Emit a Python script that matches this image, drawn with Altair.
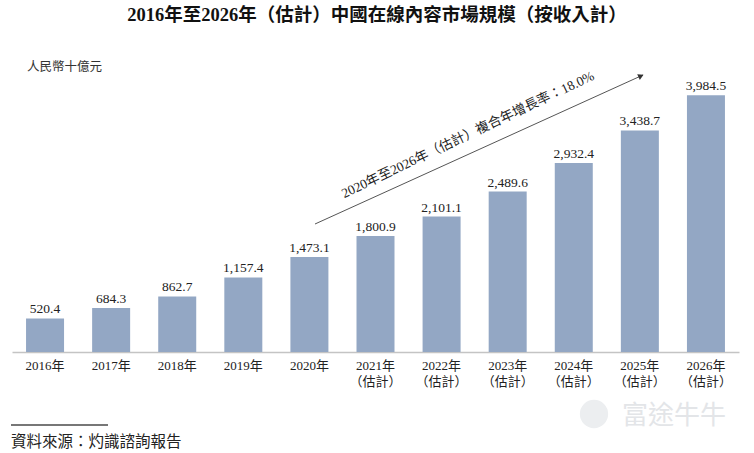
import altair as alt
import pandas as pd

years = ["2016", "2017", "2018", "2019", "2020", "2021", "2022", "2023", "2024", "2025", "2026"]
values = [520.4, 684.3, 862.7, 1157.4, 1473.1, 1800.9, 2101.1, 2489.6, 2932.4, 3438.7, 3984.5]
estimated = [False, False, False, False, False, True, True, True, True, True, True]
value_labels = ["520.4", "684.3", "862.7", "1,157.4", "1,473.1", "1,800.9", "2,101.1",
                "2,489.6", "2,932.4", "3,438.7", "3,984.5"]

title_text = "2016年至2026年（估計）中國在線內容市場規模（按收入計）"
unit_text = "人民幣十億元"
cagr_text = "2020年至2026年（估計）複合年增長率：18.0%"
source_text = "資料來源：灼識諮詢報告"
watermark_text = "富途牛牛"

labels = [y + "年" + ("\n（估計）" if e else "") for y, e in zip(years, estimated)]
df = pd.DataFrame({"label": labels, "value": values, "vlabel": value_labels})

SERIF = "Liberation Serif, 'Noto Sans CJK TC', sans-serif"
CJK = "'Noto Sans CJK TC', 'Liberation Serif', sans-serif"
BAR = "#93a7c4"
TXT = "#222222"

x_enc = alt.X("label:N", sort=None,
              scale=alt.Scale(paddingInner=0.425, paddingOuter=0.2125),
              axis=alt.Axis(title=None, labelAngle=0, ticks=False, domainColor="#c4c4c4",
                            domainWidth=1.5, labelPadding=7, labelFontSize=13,
                            labelFont=SERIF, labelColor=TXT, labelLineHeight=16,
                            labelExpr="split(datum.label, '\\n')"))
y_enc = alt.Y("value:Q", scale=alt.Scale(domain=[0, 4500]), axis=None)

base = alt.Chart(df)
bars = base.mark_bar(color=BAR).encode(x=x_enc, y=y_enc)
vals = base.mark_text(font=SERIF, fontSize=13.5, color=TXT, dy=-5, baseline="alphabetic").encode(
    x=alt.X("label:N", sort=None), y=alt.Y("value:Q"), text="vlabel:N")


def one(text):
    return alt.Chart(pd.DataFrame({"t": [text]}))


title = one(title_text).mark_text(font=SERIF, fontSize=18.5, fontWeight="bold", color="#111",
                                  align="center", baseline="middle").encode(
    x=alt.value(365), y=alt.value(-47), text="t:N")
unit = one(unit_text).mark_text(font=CJK, fontSize=12.5, color="#333", align="left",
                                baseline="middle").encode(
    x=alt.value(15), y=alt.value(5), text="t:N")
arrow_line = one("a").mark_rule(color="#555", strokeWidth=1).encode(
    x=alt.value(303), y=alt.value(162), x2=alt.value(631), y2=alt.value(13))
arrow_head = one("a").mark_point(shape="triangle-right", filled=True, color="#333",
                                 size=40, angle=335.6, opacity=1).encode(
    x=alt.value(629), y=alt.value(14))
cagr = one(cagr_text).mark_text(font=SERIF, fontSize=13.5, color=TXT, align="center",
                                baseline="middle", angle=334.6).encode(
    x=alt.value(456), y=alt.value(73), text="t:N")
src_line = one("a").mark_rule(color="#777", strokeWidth=2).encode(
    x=alt.value(-1), x2=alt.value(96), y=alt.value(363))
src = one(source_text).mark_text(font=CJK, fontSize=15.5, color=TXT, align="left",
                                 baseline="middle").encode(
    x=alt.value(-1), y=alt.value(380), text="t:N")
wm_circle = one("a").mark_point(shape="circle", filled=True, color="#eceef0", size=800,
                                opacity=1).encode(x=alt.value(582), y=alt.value(352))
wm_text = one(watermark_text).mark_text(font=CJK, fontSize=26, color="#e3e5e8", align="center",
                                        baseline="middle").encode(
    x=alt.value(662), y=alt.value(354), text="t:N")

chart = alt.layer(
    wm_circle, wm_text, bars, vals, title, unit, arrow_line, arrow_head, cagr, src_line, src
).properties(
    width=727, height=290,
    padding={"left": 12, "top": 62, "right": 15, "bottom": 101},
    autosize=alt.AutoSizeParams(type="none"),
    background="white",
).configure_view(stroke=None)

chart.save("out.html", embed_options={"renderer": "svg", "actions": False})
